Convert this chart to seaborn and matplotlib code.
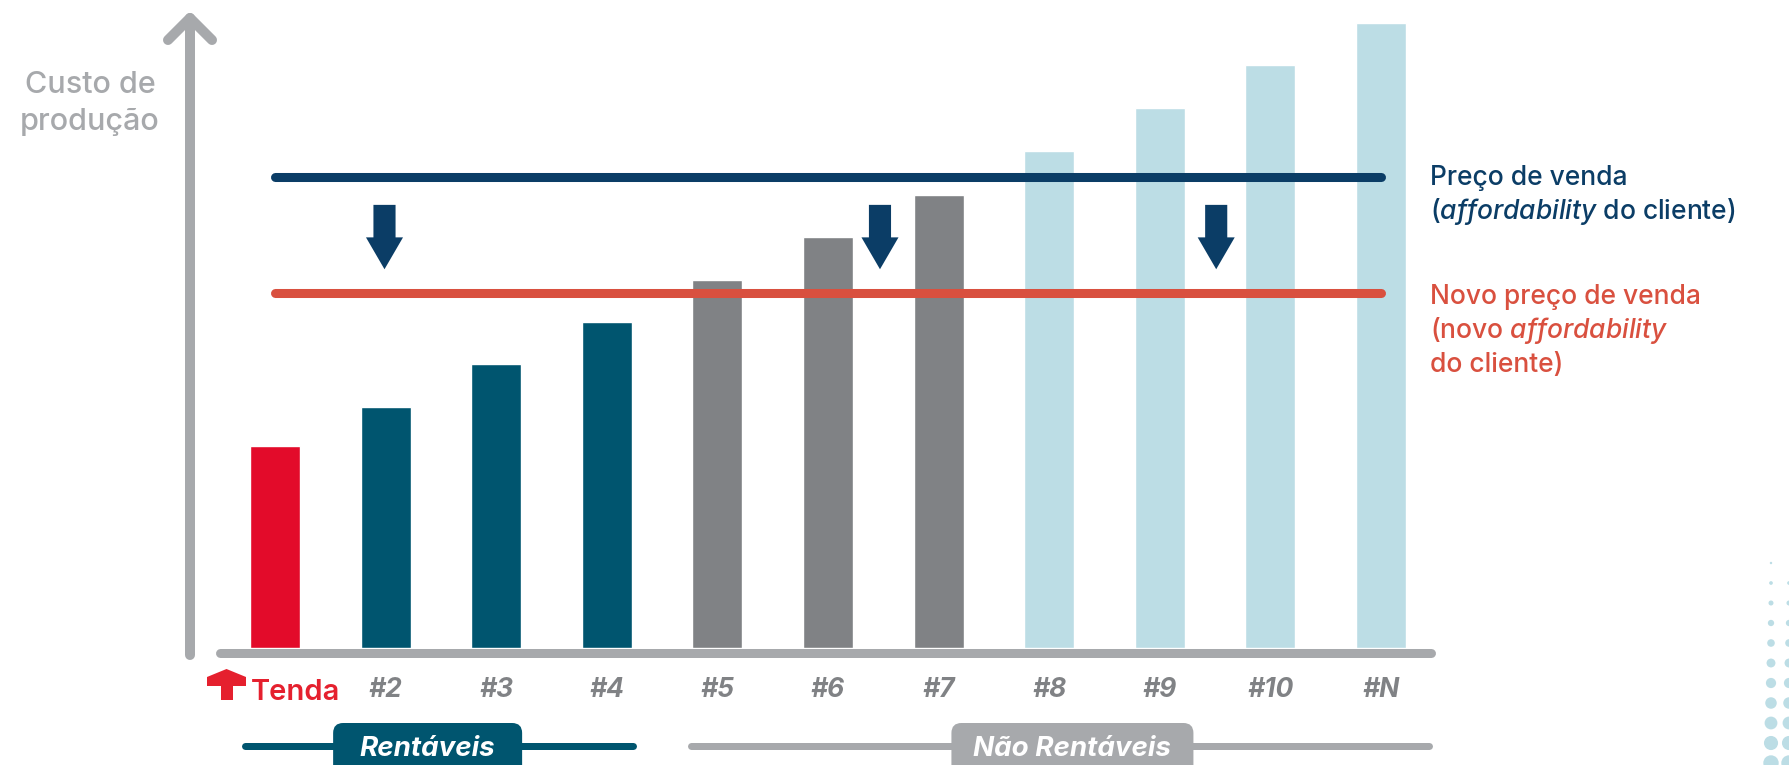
import matplotlib
matplotlib.use("Agg")
import matplotlib.pyplot as plt
from matplotlib.patches import FancyArrow, FancyBboxPatch, Polygon, Circle
import numpy as np
import pandas as pd
import seaborn as sns

# ---------------- data ----------------
categories = ["Tenda", "#2", "#3", "#4", "#5", "#6", "#7", "#8", "#9", "#10", "#N"]
production_cost = [32.3, 38.6, 45.4, 52.2, 58.9, 65.8, 72.5, 79.5, 86.4, 93.3, 100.0]
bar_colors = ["#e30b2a"] + ["#00556f"] * 3 + ["#808285"] * 3 + ["#bcdde5"] * 4
sale_price = 75.4          # Preço de venda
new_sale_price = 56.8      # Novo preço de venda
price_arrow_x = [0.99, 5.47, 8.51]
group_labels = ["Rentáveis", "Não Rentáveis"]
group_spans = [(-0.27, 3.24), (3.76, 10.43)]
group_label_x = [1.38, 7.21]

NAVY = "#0b3d66"
RED_LINE = "#d9503f"
GREY = "#a7a9ac"
TICK_GREY = "#808285"
BAR_NAVY = "#00556f"
DOT = "#bcdde5"
LOGO_RED = "#e5202e"

# ---------------- figure ----------------
sns.set_theme(style="white")
FONT = "Inter"
plt.rcParams["font.family"] = [FONT, "Lato", "DejaVu Sans"]
plt.rcParams["mathtext.fontset"] = "custom"
plt.rcParams["mathtext.rm"] = FONT + ":medium"
plt.rcParams["mathtext.it"] = FONT + ":italic:medium"
plt.rcParams["mathtext.bf"] = FONT + ":bold"

W, H = 1789, 765
fig = plt.figure(figsize=(W / 100, H / 100), dpi=100)
fig.patch.set_facecolor("white")

# overlay axes in pixel coordinates for decorations
ov = fig.add_axes([0, 0, 1, 1], zorder=0)
ov.set_xlim(0, W)
ov.set_ylim(H, 0)
ov.axis("off")

# main axes: bar centres at 275 + 110.6*i px, baseline at y=648 px
x0_px, step_px = 275.0, 110.6
L_px, R_px = 215.0, 1435.0
bottom_px, top_px = 648.0, 10.0
unit_px = 6.25
ax = fig.add_axes([L_px / W, (H - bottom_px) / H, (R_px - L_px) / W, (bottom_px - top_px) / H], zorder=2)
ax.patch.set_alpha(0)

df = pd.DataFrame({"empresa": categories, "custo": production_cost})
sns.barplot(data=df, x="empresa", y="custo", hue="empresa", palette=bar_colors,
            legend=False, width=0.452, saturation=1, ax=ax, zorder=2)

ax.set_xlim((L_px - x0_px) / step_px, (R_px - x0_px) / step_px)
ax.set_ylim(0, (bottom_px - top_px) / unit_px)

# price lines
n = len(categories)
ax.plot([0, n - 1], [sale_price, sale_price], color=NAVY, lw=6.5,
        solid_capstyle="round", zorder=4)
ax.plot([0, n - 1], [new_sale_price, new_sale_price], color=RED_LINE, lw=6.5,
        solid_capstyle="round", zorder=4)

# down arrows
a_top = sale_price - 4.5
a_len = 10.3
for xa in price_arrow_x:
    ax.add_patch(FancyArrow(xa, a_top, 0, -a_len, width=0.2, head_width=0.335,
                            head_length=5.1, length_includes_head=True,
                            color=NAVY, lw=0, zorder=5))

# ticks
ax.set_xticks(range(n))
ax.set_xticklabels([""] + categories[1:], fontsize=19, fontweight="bold",
                   fontstyle="italic", color=TICK_GREY)
ax.tick_params(axis="x", length=0, pad=21)
ax.set_yticks([])
ax.set_xlabel("")
ax.set_ylabel("")
for s in ax.spines.values():
    s.set_visible(False)

# axis lines (arrow style)
lw_axis = 10 / 1.389
ov.plot([190, 190], [655, 18], color=GREY, lw=lw_axis, solid_capstyle="round")
ov.plot([168, 190, 212], [40, 18, 40], color=GREY, lw=lw_axis,
        solid_capstyle="round", solid_joinstyle="round")
ov.plot([219.5, 1430.5], [652.5, 652.5], color=GREY, lw=9 / 1.389, solid_capstyle="round")

# y label
ov.text(90, 93, "Custo de", ha="center", va="baseline", fontsize=22,
        fontweight="medium", color=GREY)
ov.text(90, 130, "produção", ha="center", va="baseline", fontsize=22,
        fontweight="medium", color=GREY)

# Tenda logo (house roof + stem)
ov.add_patch(Polygon([(207, 677), (226.5, 669), (246, 677), (246, 686), (233, 686),
                      (233, 700), (221, 700), (221, 686), (207, 686)],
                     closed=True, color=LOGO_RED, lw=0))
ov.text(251, 700, "Tenda", ha="left", va="baseline", fontsize=21,
        fontweight="semibold", color=LOGO_RED)

# right-hand annotations
fs_r = 19
ov.text(1430, 185, "Preço de venda", ha="left", va="baseline", fontsize=fs_r,
        fontweight="medium", color=NAVY)
ov.text(1430, 219, "(" + r"$\mathit{affordability}$" + " do cliente)", ha="left",
        va="baseline", fontsize=fs_r, fontweight="medium", color=NAVY)
ov.text(1430, 304, "Novo preço de venda", ha="left", va="baseline", fontsize=fs_r,
        fontweight="medium", color=RED_LINE)
ov.text(1430, 338, "(novo " + r"$\mathit{affordability}$", ha="left", va="baseline",
        fontsize=fs_r, fontweight="medium", color=RED_LINE)
ov.text(1430, 372, "do cliente)", ha="left", va="baseline", fontsize=fs_r,
        fontweight="medium", color=RED_LINE)

# group brackets at the bottom
group_colors = [BAR_NAVY, GREY]
box_w = [189, 242]
for lab, (a, b), cx, col, bw in zip(group_labels, group_spans, group_label_x, group_colors, box_w):
    a_px, b_px = x0_px + step_px * a, x0_px + step_px * b
    ov.plot([a_px, b_px], [746, 746], color=col, lw=7 / 1.389,
            solid_capstyle="round", zorder=1)
    cx_px = x0_px + step_px * cx
    ov.add_patch(FancyBboxPatch((cx_px - bw / 2, 723), bw, 60,
                                boxstyle="round,pad=0,rounding_size=10",
                                color=col, lw=0, zorder=2))
    ov.text(cx_px, 756, lab, ha="center", va="baseline", fontsize=20,
            fontweight="bold", fontstyle="italic", color="white", zorder=3)

# decorative dots
for col_x, start in [(1771, 0), (1789, 1)]:
    for k in range(start, 11):
        r = 1.2 + 0.65 * k
        ov.add_patch(Circle((col_x, 563 + 20 * k), r, color=DOT, lw=0))

fig.savefig("out.png", dpi=100, facecolor="white")
